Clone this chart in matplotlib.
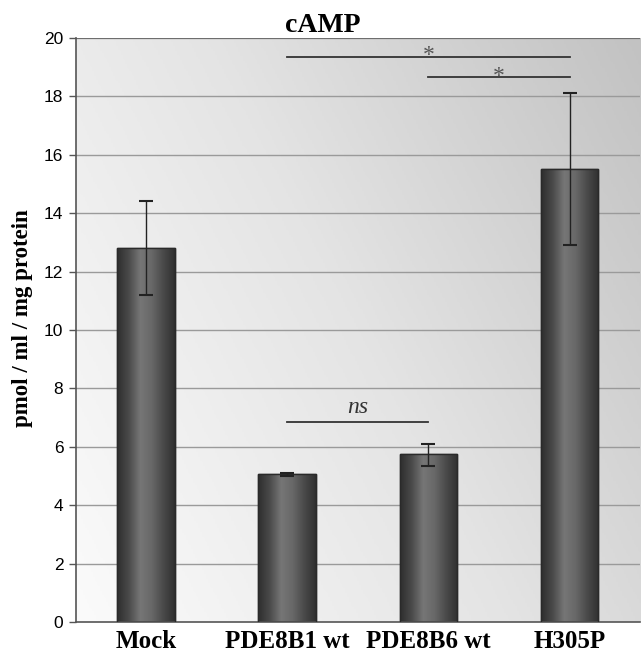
import numpy as np
import matplotlib
matplotlib.use("Agg")
import matplotlib.pyplot as plt
from matplotlib.colors import LinearSegmentedColormap

categories = ["Mock", "PDE8B1 wt", "PDE8B6 wt", "H305P"]
values = [12.8, 5.05, 5.75, 15.5]
err_low = [1.6, 0.05, 0.4, 2.6]
err_high = [1.6, 0.05, 0.35, 2.6]
yticks = [0, 2, 4, 6, 8, 10, 12, 14, 16, 18, 20]
# significance brackets: (from index, to index, y level, label)
sig = [(1, 3, 19.35, "*"), (2, 3, 18.65, "*"), (1, 2, 6.85, "ns")]

fig = plt.figure(figsize=(6.42, 6.53), dpi=100)
ax = fig.add_axes([0.118, 0.0475, 0.879, 0.8945])
ax.set_xlim(-0.5, 3.5)
ax.set_ylim(0, 20)

# background gradient (light bottom-left -> darker top-right)
bg = LinearSegmentedColormap.from_list("bg", ["#fbfbfb", "#e4e4e4", "#c2c2c2"])
gx = np.linspace(0, 1, 256)
gy = np.linspace(0, 1, 256)
G = 0.65 * gx[None, :] + 0.35 * gy[:, None]
ax.imshow(G, cmap=bg, extent=[-0.5, 3.5, 0, 20], aspect="auto", origin="lower", zorder=0)

for t in yticks[1:]:
    ax.axhline(t, color="#9a9a9a", lw=1.0, zorder=1)

x = np.arange(len(categories))
w = 0.41
bars = ax.bar(x, values, width=w, color="#555555", edgecolor="#2e2e2e", lw=1.0, zorder=2)
cyl = LinearSegmentedColormap.from_list("cyl", ["#2e2e2e", "#4a4a4a", "#767676", "#686868", "#4a4a4a", "#303030"])
for b in bars:
    x0 = b.get_x(); h = b.get_height()
    im = ax.imshow(np.linspace(0, 1, 128)[None, :], cmap=cyl, extent=[x0, x0 + w, 0, h],
                   aspect="auto", zorder=2.5)
    im.set_clip_path(b)
    ax.add_patch(plt.Rectangle((x0, 0), w, h, fill=False, edgecolor="#2a2a2a", lw=1.0, zorder=2.6))

ax.errorbar(x, values, yerr=[err_low, err_high], fmt="none", ecolor="#222222",
            elinewidth=1.0, capsize=5, capthick=1.5, zorder=3)

for i0, i1, yl, lab in sig:
    ax.plot([x[i0], x[i1]], [yl, yl], color="#333333", lw=1.3, zorder=3)
    xm = (x[i0] + x[i1]) / 2
    if lab == "ns":
        ax.text(xm, yl + 0.15, lab, ha="center", va="bottom", fontsize=17,
                family="Liberation Serif", style="italic", color="#333333", zorder=4)
    else:
        ax.text(xm, yl - 0.32, lab, ha="center", va="bottom", fontsize=17,
                family="Liberation Serif", color="#555555", zorder=4)

ax.set_xticks(x)
ax.set_xticklabels(categories, family="Liberation Serif", fontweight="bold", fontsize=18)
ax.set_yticks(yticks)
ax.set_yticklabels([str(t) for t in yticks], family="Liberation Sans", fontsize=12.5)
ax.tick_params(axis="x", length=0, pad=6)
ax.tick_params(axis="y", length=5, width=1, color="#555555", pad=4)
for s in ["top", "right"]:
    ax.spines[s].set_visible(False)
ax.spines["left"].set_color("#555555")
ax.spines["bottom"].set_color("#555555")
ax.spines["left"].set_linewidth(1.2)
ax.spines["bottom"].set_linewidth(1.2)
ax.axhline(20, color="#666666", lw=1.2, zorder=1)

ax.set_ylabel("pmol / ml / mg protein", family="Liberation Serif", fontweight="bold", fontsize=16.5, labelpad=6)
ax.yaxis.set_label_coords(-0.075, 0.52)
fig.text(0.503, 0.942, "cAMP", ha="center", va="bottom", family="Liberation Serif",
         fontweight="bold", fontsize=20)

fig.savefig("out.png", dpi=100)
